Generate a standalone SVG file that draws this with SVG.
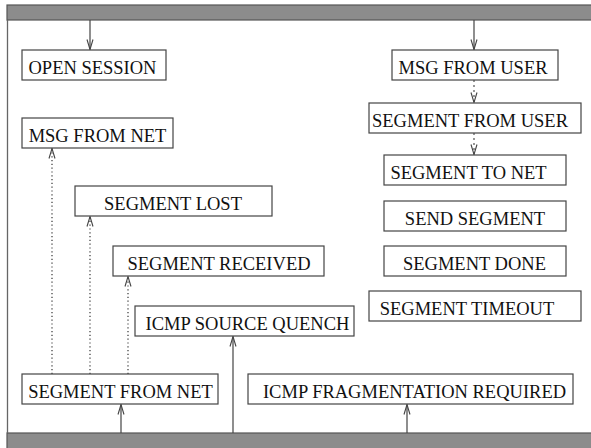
<svg xmlns="http://www.w3.org/2000/svg" width="591" height="448" viewBox="0 0 591 448">
<style>
.bar{fill:#8c8c8c;stroke:#555;stroke-width:1.2}
.box{fill:#fff;stroke:#444;stroke-width:1.2}
.t{font-family:"Liberation Serif","Times New Roman",serif;font-size:18.5px;fill:#111;text-anchor:middle}
.solid{stroke:#444;stroke-width:1.2;fill:none}
.dot{stroke:#444;stroke-width:1.3;fill:none;stroke-dasharray:1.2 2.6}
.dash{stroke:#444;stroke-width:1.1;fill:none;stroke-dasharray:2 3}
</style>
<defs>
<marker id="ah" viewBox="-11 -4 12 8" markerWidth="12" markerHeight="8" refX="0" refY="0" orient="auto" markerUnits="userSpaceOnUse">
<path d="M-10,-3 L0,0 L-10,3" fill="none" stroke="#444" stroke-width="1.1"/>
</marker>
</defs>
<rect width="591" height="448" fill="#fff"/>
<g id="frame">
<rect class="bar" x="7" y="5" width="590" height="15"/>
<rect class="bar" x="7" y="433" width="590" height="20"/>
<line x1="7.5" y1="20" x2="7.5" y2="433" stroke="#666" stroke-width="1.3"/>
</g>
<g id="connectors">
<line class="solid" x1="90" y1="20" x2="90" y2="49.5" marker-end="url(#ah)"/>
<line class="solid" x1="474" y1="20" x2="474" y2="49.5" marker-end="url(#ah)"/>
<line class="dash" x1="474" y1="80" x2="474" y2="102.5" marker-end="url(#ah)"/>
<line class="dash" x1="474" y1="133" x2="474" y2="154.5" marker-end="url(#ah)"/>
<line class="dot" x1="52" y1="374" x2="52" y2="148.5" marker-end="url(#ah)"/>
<line class="dot" x1="90" y1="374" x2="90" y2="216.5" marker-end="url(#ah)"/>
<line class="dot" x1="128" y1="374" x2="128" y2="276.5" marker-end="url(#ah)"/>
<line class="solid" x1="121" y1="433" x2="121" y2="404.5" marker-end="url(#ah)"/>
<line class="solid" x1="233" y1="433" x2="233" y2="336.5" marker-end="url(#ah)"/>
<line class="solid" x1="407" y1="433" x2="407" y2="404.5" marker-end="url(#ah)"/>
</g>
<g id="open-session"><rect class="box" x="22" y="50" width="144" height="30"/><text class="t" x="92.5" y="73.5">OPEN SESSION</text></g>
<g id="msg-from-net"><rect class="box" x="22" y="118" width="151" height="30"/><text class="t" x="97.5" y="141.5">MSG FROM NET</text></g>
<g id="segment-lost"><rect class="box" x="75" y="186" width="197" height="30"/><text class="t" x="173" y="209.5">SEGMENT LOST</text></g>
<g id="segment-received"><rect class="box" x="113" y="246" width="211" height="30"/><text class="t" x="219" y="269.5">SEGMENT RECEIVED</text></g>
<g id="icmp-source-quench"><rect class="box" x="135" y="306" width="219" height="30"/><text class="t" x="247.5" y="329.5">ICMP SOURCE QUENCH</text></g>
<g id="segment-from-net"><rect class="box" x="22" y="374" width="196" height="30"/><text class="t" x="120.5" y="397.5">SEGMENT FROM NET</text></g>
<g id="icmp-fragmentation-required"><rect class="box" x="248" y="374" width="325" height="30"/><text class="t" x="414.5" y="397.5">ICMP FRAGMENTATION REQUIRED</text></g>
<g id="msg-from-user"><rect class="box" x="392" y="50" width="166" height="30"/><text class="t" x="473" y="73.5">MSG FROM USER</text></g>
<g id="segment-from-user"><rect class="box" x="369" y="103" width="212" height="30"/><text class="t" x="470" y="126.5">SEGMENT FROM USER</text></g>
<g id="segment-to-net"><rect class="box" x="384" y="155" width="182" height="30"/><text class="t" x="468.5" y="178.5">SEGMENT TO NET</text></g>
<g id="send-segment"><rect class="box" x="384" y="201" width="182" height="30"/><text class="t" x="475" y="224.5">SEND SEGMENT</text></g>
<g id="segment-done"><rect class="box" x="384" y="246" width="182" height="30"/><text class="t" x="474.5" y="269.5">SEGMENT DONE</text></g>
<g id="segment-timeout"><rect class="box" x="369" y="291" width="212" height="30"/><text class="t" x="467" y="314.5">SEGMENT TIMEOUT</text></g>
</svg>
